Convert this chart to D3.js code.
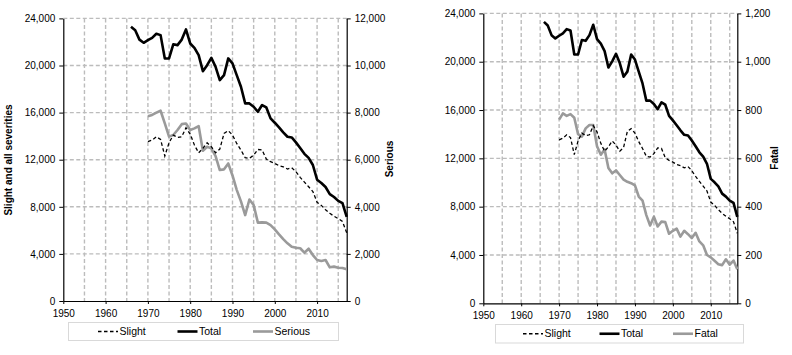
<!DOCTYPE html>
<html><head><meta charset="utf-8">
<script src="https://cdn.jsdelivr.net/npm/d3@7"></script>
<style>
html,body{margin:0;padding:0;background:#fff;}
svg{display:block;font-family:"Liberation Sans",Arial,sans-serif;}
</style></head>
<body><svg id="c" width="792" height="355"></svg>
<script>
// ---- DATA ----
const totalStart = 1966;
const totalValues = [23300,23000,22200,21930,22150,22350,22700,22580,20600,20600,21800,21730,22200,23060,21870,21500,20880,19520,20030,20650,19890,18760,19180,20600,20180,19180,18200,16780,16780,16500,16070,16640,16440,15510,15140,14740,14320,13950,13890,13470,13000,12500,12150,11550,10300,10020,9680,9080,8830,8500,8310,7150];
const slightStart = 1970;
const slightValues = [13530,13670,13950,13720,12310,13440,14090,13890,13950,14710,14180,13240,12590,12960,13440,13100,12590,12900,14230,14460,14090,13380,12820,12170,12110,12390,12870,12820,12050,11830,11690,11490,11400,11210,11320,10980,10500,10100,9700,9300,8380,8120,7750,7450,7200,7000,6750,5800];
const seriousStart = 1970;
const seriousValues = [7850,7900,8000,8080,7540,6980,7050,7260,7510,7540,7260,7330,7430,6380,6550,6480,6150,5560,5590,5840,5330,4720,4230,3650,4310,4075,3330,3340,3330,3225,3040,2830,2630,2450,2300,2260,2240,2050,2220,1950,1740,1700,1740,1430,1460,1415,1400,1345];
const fatalStart = 1970;
const fatalValues = [760,786,776,783,768,700,690,724,738,738,650,615,637,560,538,550,531,512,503,497,488,442,425,365,322,358,318,338,336,288,300,309,276,300,286,270,292,256,240,200,190,176,162,158,182,160,177,141];

const xTickLabels = [1950,1960,1970,1980,1990,2000,2010];
const leftTicks = [0,4000,8000,12000,16000,20000,24000];
const seriousTicks = [0,2000,4000,6000,8000,10000,12000];
const fatalTicks = [0,200,400,600,800,1000,1200];
const legendLeft = ["Slight","Total","Serious"];
const legendRight = ["Slight","Total","Fatal"];

const toPts = (start, vals) => vals.map((v,i)=>({year:start+i, v}));
const totalData = toPts(totalStart,totalValues);
const slightData = toPts(slightStart,slightValues);
const seriousData = toPts(seriousStart,seriousValues);
const fatalData = toPts(fatalStart,fatalValues);

const svg = d3.select("#c");
const fmt = d3.format(",");
const GRAY = "#9a9a9a";

function panel(cfg){
  const g = svg.append("g");
  const x = d3.scaleLinear().domain([1950,2017]).range([cfg.x0,cfg.x1]);
  const yL = d3.scaleLinear().domain([0,24000]).range([cfg.y1,cfg.y0]);
  const yR = d3.scaleLinear().domain([0,cfg.rMax]).range([cfg.y1,cfg.y0]);

  // grid
  const grid = g.append("g").attr("stroke","#bcbcbc").attr("stroke-width",1.4).attr("stroke-dasharray","4,2.5");
  leftTicks.filter(t=>t>0).forEach(t=>{
    grid.append("line").attr("x1",cfg.x0).attr("x2",cfg.x1).attr("y1",yL(t)).attr("y2",yL(t));
  });
  d3.range(1955,2017,5).forEach(t=>{
    grid.append("line").attr("x1",x(t)).attr("x2",x(t)).attr("y1",cfg.y0).attr("y2",cfg.y1);
  });

  // axes
  const ax = d3.axisBottom(x).tickValues(xTickLabels).tickFormat(d3.format("d")).tickSize(3).tickSizeOuter(0);
  const gx = g.append("g").attr("transform",`translate(0,${cfg.y1})`).call(ax);
  const ayl = d3.axisLeft(yL).tickValues(leftTicks).tickFormat(fmt).tickSize(4).tickSizeOuter(0).tickPadding(4);
  const gyl = g.append("g").attr("transform",`translate(${cfg.x0},0)`).call(ayl);
  const ayr = d3.axisRight(yR).tickValues(cfg.rTicks).tickFormat(fmt).tickSize(4).tickSizeOuter(0).tickPadding(4);
  const gyr = g.append("g").attr("transform",`translate(${cfg.x1},0)`).call(ayr);
  [gx,gyl,gyr].forEach(a=>{
    a.selectAll("path").attr("stroke","#000").attr("stroke-width",1.2);
    a.selectAll("line").attr("stroke","#000");
    a.selectAll("text").attr("font-size",10).attr("fill","#000").attr("font-family","Liberation Sans, Arial, sans-serif");
  });
  gx.selectAll("text").attr("dy","0.95em");

  // lines
  const lineL = d3.line().x(d=>x(d.year)).y(d=>yL(d.v));
  const lineR = d3.line().x(d=>x(d.year)).y(d=>yR(d.v));
  g.append("path").datum(cfg.rData).attr("d",lineR).attr("fill","none").attr("stroke",GRAY).attr("stroke-width",2.6).attr("stroke-linejoin","round");
  g.append("path").datum(slightData).attr("d",lineL).attr("fill","none").attr("stroke","#000").attr("stroke-width",1.3).attr("stroke-dasharray","3.5,2.5");
  g.append("path").datum(totalData).attr("d",lineL).attr("fill","none").attr("stroke","#000").attr("stroke-width",2.6).attr("stroke-linejoin","round");

  // axis titles
  if(cfg.leftTitle){
    g.append("text").attr("transform",`translate(${cfg.ltX},${cfg.ltY}) rotate(-90)`).attr("text-anchor","middle")
     .attr("font-size",10).attr("font-weight","bold").text(cfg.leftTitle);
  }
  g.append("text").attr("transform",`translate(${cfg.rtX},${cfg.rtY}) rotate(-90)`).attr("text-anchor","middle")
   .attr("font-size",10).attr("font-weight","bold").text(cfg.rightTitle);

  // legend
  const lg = g.append("g");
  lg.append("rect").attr("x",cfg.lgX).attr("y",cfg.lgY).attr("width",cfg.lgW).attr("height",cfg.lgH)
    .attr("fill","#fff").attr("stroke","#d9d9d9").attr("stroke-width",1);
  const cy = cfg.lgY + cfg.lgH/2;
  const styles = [
    {stroke:"#000",w:1.3,dash:"3.5,2.5"},
    {stroke:"#000",w:2.6,dash:null},
    {stroke:GRAY,w:2.6,dash:null}
  ];
  cfg.legend.forEach((name,i)=>{
    const lx = cfg.lgItems[i];
    const s = styles[i];
    const l = lg.append("line").attr("x1",lx).attr("x2",lx+20).attr("y1",cy).attr("y2",cy)
      .attr("stroke",s.stroke).attr("stroke-width",s.w);
    if(s.dash) l.attr("stroke-dasharray",s.dash);
    lg.append("text").attr("x",lx+21.5).attr("y",cy).attr("dy","0.35em").attr("font-size",10.5).attr("fill","#000").text(name);
  });
}

panel({x0:63.3,x1:346.7,y0:18.4,y1:301,rMax:12000,rTicks:seriousTicks,rData:seriousData,
  leftTitle:"Slight and all severities",ltX:12,ltY:160,rightTitle:"Serious",rtX:393,rtY:159,
  legend:legendLeft,lgX:68.5,lgY:322.5,lgW:270,lgH:18,lgItems:[98,177.5,253]});
panel({x0:483.3,x1:737.3,y0:13.4,y1:303.3,rMax:1200,rTicks:fatalTicks,rData:fatalData,
  leftTitle:null,rightTitle:"Fatal",rtX:778,rtY:158,
  legend:legendRight,lgX:495.5,lgY:324.5,lgW:248,lgH:18.5,lgItems:[523,599.5,673]});
</script></body></html>
